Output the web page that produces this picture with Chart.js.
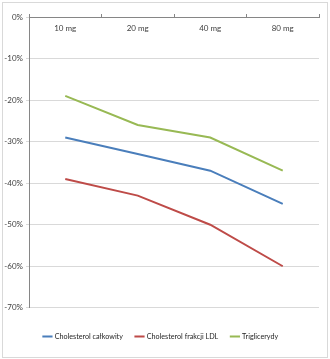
<!DOCTYPE html>
<html>
<head>
<meta charset="utf-8">
<script src="https://cdn.jsdelivr.net/npm/chart.js@4/dist/chart.umd.min.js"></script>
<style>
  body { margin: 0; background: #fff; }
  #frame { position: absolute; left: 2px; top: 2px; width: 324px; height: 354px; border: 1px solid #d9d9d9; }
</style>
</head>
<body>
<div id="frame"><canvas id="chart" width="324" height="354"></canvas></div>
<script>
// dane wykresu
const dawki = ['10 mg', '20 mg', '40 mg', '80 mg'];
const cholCalkowity = [-29, -33, -37, -45];
const cholLDL = [-39, -43, -50, -60];
const triglicerydy = [-19, -26, -29, -37];

Chart.defaults.font.family = 'Lato, "Open Sans", sans-serif';
Chart.defaults.font.size = 8;
Chart.defaults.color = '#404040';

const seria = (label, data, color) => ({
    label: label,
    data: data,
    borderColor: color,
    backgroundColor: color,
    borderWidth: 2,
    pointRadius: 0,
    tension: 0
});

new Chart(document.getElementById('chart'), {
    type: 'line',
    data: {
        labels: dawki,
        datasets: [
            seria('Cholesterol całkowity', cholCalkowity, '#4A7EBB'),
            seria('Cholesterol frakcji LDL', cholLDL, '#BE4B48'),
            seria('Triglicerydy', triglicerydy, '#98B954')
        ]
    },
    options: {
        responsive: false,
        animation: false,
        layout: { padding: { top: 14, right: 8, left: 0, bottom: 7 } },
        plugins: {
            tooltip: { enabled: false },
            legend: {
                position: 'bottom',
                // pusty tytul robi odstep miedzy wykresem a legenda
                title: { display: true, text: ' ', font: { size: 10 }, padding: 0 },
                labels: {
                    usePointStyle: true,
                    pointStyle: 'line',
                    boxWidth: 15,
                    padding: 13,
                    font: { size: 7.2 },
                    color: '#262626'
                }
            }
        },
        scales: {
            x: {
                position: { y: 0 },
                offset: true,
                grid: { drawOnChartArea: false, offset: true, tickLength: -4, color: '#868686' },
                border: { color: '#868686' },
                ticks: { padding: 11 }
            },
            y: {
                min: -70,
                max: 0,
                afterFit: (s) => { s.width = 26; },
                ticks: { stepSize: 10, padding: 3, callback: (v) => v + '%' },
                grid: { color: '#d9d9d9', tickLength: 3 },
                border: { color: '#868686' }
            }
        }
    }
});
</script>
</body>
</html>
